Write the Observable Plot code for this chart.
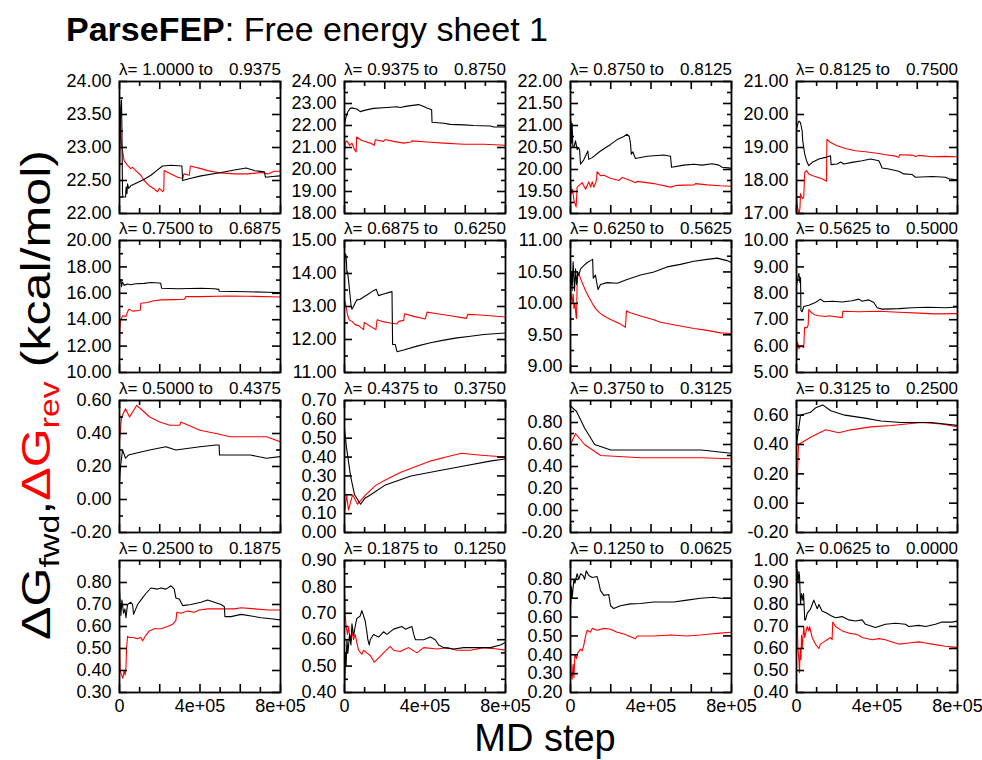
<!DOCTYPE html>
<html>
<head>
<meta charset="utf-8">
<script src="https://cdn.jsdelivr.net/npm/d3@7"></script>
<script src="https://cdn.jsdelivr.net/npm/@observablehq/plot@0.6"></script>
<style>
  html, body { margin: 0; padding: 0; background: #fff; }
  #chart { position: relative; width: 982px; height: 760px; overflow: hidden; background: #fff; font-family: "Liberation Sans", Arial, sans-serif; }
  #chart svg.panel { position: absolute; overflow: visible; }
  #overlay { position: absolute; left: 0; top: 0; }
</style>
</head>
<body>
<div id="chart"></div>
<script>
// ---------- data (x in units of 1e5 MD steps) ----------
const lambdaFrom = ["1.0000","0.9375","0.8750","0.8125","0.7500","0.6875","0.6250","0.5625",
                    "0.5000","0.4375","0.3750","0.3125","0.2500","0.1875","0.1250","0.0625"];
const lambdaTo   = ["0.9375","0.8750","0.8125","0.7500","0.6875","0.6250","0.5625","0.5000",
                    "0.4375","0.3750","0.3125","0.2500","0.1875","0.1250","0.0625","0.0000"];
const xTickValues = [0, 4, 8];
const xTickLabels = ["0", "4e+05", "8e+05"];

const yDomains = [[22,24],[18,24],[19,22],[17,21],[10,20],[11,15],[8.9,11],[5,10],
                  [-0.2,0.6],[0,0.7],[-0.2,1.0],[-0.2,0.7],[0.3,0.9],[0.4,0.9],[0.2,0.9],[0.4,1.0]];
const yLabels = [
  [22,22.5,23,23.5,24],[18,19,20,21,22,23,24],[19,19.5,20,20.5,21,21.5,22],[17,18,19,20,21],
  [10,12,14,16,18,20],[11,12,13,14,15],[9,9.5,10,10.5,11],[5,6,7,8,9,10],
  [-0.2,0,0.2,0.4,0.6],[0,0.1,0.2,0.3,0.4,0.5,0.6,0.7],[-0.2,0,0.2,0.4,0.6,0.8],[-0.2,0,0.2,0.4,0.6],
  [0.3,0.4,0.5,0.6,0.7,0.8],[0.4,0.5,0.6,0.7,0.8,0.9],[0.2,0.3,0.4,0.5,0.6,0.7,0.8],[0.4,0.5,0.6,0.7,0.8,0.9,1.0]
];
const yMinor = [
  [22.25,22.75,23.25,23.75],[18.5,19.5,20.5,21.5,22.5,23.5],[19.25,19.75,20.25,20.75,21.25,21.75],[17.5,18.5,19.5,20.5],
  [11,13,15,17,19],[11.5,12.5,13.5,14.5],[9.25,9.75,10.25,10.75],[5.5,6.5,7.5,8.5,9.5],
  [-0.1,0.1,0.3,0.5],[],[-0.1,0.1,0.3,0.5,0.7,0.9],[-0.1,0.1,0.3,0.5],
  [],[0.45,0.55,0.65,0.75,0.85],[],[]
];

const fwd1 = [[0,22.65],[0.03,23.2],[0.06,23.6],[0.1,23.72],[0.12,23.3],[0.15,22.3],[0.17,22.25],[0.3,22.25],[0.33,22.4],[0.37,22.3],[0.4,22.45],[0.45,22.38],[0.56,22.42],[0.9,22.47],[1.23,22.52],[1.56,22.58],[1.89,22.66],[2.14,22.72],[2.56,22.73],[3.1,22.72],[3.14,22.5],[3.5,22.53],[4.05,22.57],[5.05,22.62],[5.71,22.66],[6.29,22.69],[6.7,22.65],[7.2,22.63],[7.25,22.55],[7.6,22.56],[8,22.57]];
const rev1 = [[0,22.7],[0.03,23.4],[0.08,23.1],[0.15,22.95],[0.23,22.8],[0.4,22.73],[0.55,22.68],[0.65,22.7],[0.81,22.65],[1.06,22.58],[1.23,22.5],[1.48,22.42],[1.73,22.37],[1.89,22.33],[1.98,22.38],[2.14,22.33],[2.2,22.35],[2.22,22.65],[2.56,22.6],[2.89,22.55],[3.14,22.53],[3.2,22.6],[3.47,22.58],[3.52,22.72],[4.05,22.68],[4.38,22.65],[4.88,22.62],[5.71,22.6],[6.37,22.6],[7.04,22.62],[7.37,22.6],[7.7,22.64],[8,22.64]];

const fwd2 = [[0,22.0],[0.05,22.3],[0.15,22.6],[0.28,22.78],[0.37,22.8],[0.61,22.75],[0.78,22.63],[1.03,22.7],[1.44,22.78],[2.11,22.82],[2.6,22.85],[2.77,22.82],[3.1,22.88],[3.68,22.95],[3.85,22.9],[4.1,22.8],[4.33,22.72],[4.35,22.15],[4.93,22.1],[5.26,22.05],[5.93,22.03],[6.42,22.0],[7.25,21.98],[7.42,21.93],[8,21.93]];
const rev2 = [[0,20.8],[0.03,21.2],[0.12,21.3],[0.25,21.1],[0.37,21.2],[0.45,21.0],[0.53,20.85],[0.58,20.8],[0.6,21.48],[0.86,21.32],[1.28,21.2],[1.48,21.1],[1.53,21.35],[1.94,21.28],[2.02,21.36],[2.44,21.28],[2.94,21.2],[3.3,21.25],[3.35,21.3],[4.1,21.25],[4.93,21.2],[5.93,21.15],[6.92,21.15],[8,21.1]];

const fwd3 = [[0,20.5],[0.02,21.1],[0.05,20.6],[0.08,21.05],[0.12,20.5],[0.17,20.5],[0.25,20.65],[0.33,20.45],[0.4,20.5],[0.45,20.45],[0.5,20.12],[0.66,20.22],[0.86,20.42],[0.91,20.23],[1.08,20.27],[1.49,20.42],[1.99,20.57],[2.32,20.68],[2.65,20.75],[2.81,20.8],[2.92,20.75],[2.98,20.6],[3.02,20.35],[3.1,20.4],[3.18,20.3],[3.23,20.25],[3.81,20.3],[4.64,20.33],[4.97,20.3],[5.02,20.05],[5.63,20.1],[6.13,20.12],[6.54,20.1],[7.04,20.13],[7.37,20.1],[7.53,20.05],[8,20.03]];
const rev3 = [[0,19.75],[0.05,19.45],[0.1,19.55],[0.17,19.3],[0.28,19.15],[0.33,19.6],[0.58,19.7],[0.75,19.55],[0.91,19.72],[1.0,19.6],[1.08,19.72],[1.16,19.6],[1.24,19.68],[1.3,19.78],[1.32,19.95],[1.49,19.86],[1.66,19.87],[1.99,19.8],[2.4,19.75],[2.57,19.82],[2.98,19.75],[3.23,19.7],[3.31,19.73],[4.14,19.68],[4.97,19.6],[5.3,19.64],[6.13,19.65],[6.21,19.68],[6.79,19.65],[7.45,19.63],[8,19.62]];

const fwd4 = [[0,19.55],[0.05,19.7],[0.12,19.8],[0.2,19.75],[0.28,19.5],[0.31,19.2],[0.36,19.0],[0.41,18.8],[0.5,18.6],[0.53,18.55],[0.61,18.45],[0.78,18.55],[0.94,18.6],[1.11,18.65],[1.44,18.7],[1.69,18.75],[1.72,18.48],[2.02,18.5],[2.19,18.56],[2.35,18.5],[2.76,18.55],[3.26,18.6],[3.68,18.65],[4.09,18.6],[4.17,18.5],[4.25,18.38],[4.59,18.35],[5.08,18.28],[5.33,18.2],[5.75,18.18],[5.91,18.1],[6.74,18.12],[7.4,18.1],[7.57,18.05],[8,18.02]];
const rev4 = [[0,17.5],[0.05,17.2],[0.12,17.0],[0.17,17.15],[0.2,17.6],[0.25,17.5],[0.31,17.45],[0.36,17.5],[0.41,18.25],[0.5,18.3],[0.61,18.2],[0.78,18.15],[1.03,18.1],[1.27,18.05],[1.49,17.98],[1.51,19.25],[1.69,19.15],[2.02,19.05],[2.43,18.97],[2.93,18.9],[3.43,18.87],[4.09,18.82],[4.42,18.78],[4.92,18.74],[5.08,18.7],[5.12,18.78],[5.75,18.77],[5.91,18.73],[6.08,18.76],[6.74,18.72],[7.4,18.73],[8,18.72]];

const fwd5 = [[0,16.7],[0.04,17.0],[0.07,17.05],[0.1,16.5],[0.15,16.85],[0.23,16.6],[0.4,16.7],[0.56,16.65],[0.81,16.72],[1.23,16.75],[1.56,16.82],[1.98,16.78],[2.05,16.75],[2.09,16.38],[2.89,16.35],[4.05,16.38],[4.71,16.35],[4.93,16.3],[4.96,16.15],[6.37,16.12],[7.37,16.08],[8,16.05]];
const rev5 = [[0,12.0],[0.02,13.2],[0.05,14.0],[0.1,14.1],[0.15,14.3],[0.32,14.25],[0.4,14.6],[0.48,14.8],[0.65,14.65],[0.98,14.7],[1.03,14.72],[1.06,15.25],[1.39,15.3],[1.64,15.42],[2.06,15.5],[2.72,15.52],[3.22,15.55],[3.3,15.75],[4.05,15.75],[5.38,15.8],[6.37,15.78],[8,15.72]];

const fwd6 = [[0,14.3],[0.03,14.6],[0.08,14.55],[0.12,14.0],[0.15,14.05],[0.2,13.8],[0.25,13.5],[0.33,13.0],[0.37,12.92],[0.45,13.0],[0.52,13.1],[0.61,13.2],[0.78,13.22],[1.11,13.35],[1.44,13.48],[1.58,13.52],[1.69,13.33],[1.94,13.38],[2.36,13.45],[2.39,11.85],[2.52,11.85],[2.61,11.63],[2.94,11.68],[3.6,11.8],[4.27,11.9],[4.93,11.98],[5.59,12.05],[6.26,12.1],[6.92,12.15],[8,12.2]];
const rev6 = [[0,13.2],[0.08,13.0],[0.15,12.75],[0.23,12.6],[0.37,12.55],[0.53,12.45],[0.7,12.42],[0.95,12.3],[0.98,12.52],[1.28,12.4],[1.56,12.3],[1.62,12.6],[1.86,12.55],[2.27,12.5],[2.61,12.47],[2.69,12.55],[2.94,12.58],[2.99,12.78],[3.44,12.7],[4.01,12.62],[4.1,12.83],[4.6,12.78],[5.26,12.72],[6.06,12.64],[6.12,12.76],[6.59,12.75],[7.25,12.72],[8,12.68]];

const fwd7 = [[0,10.25],[0.05,10.5],[0.08,10.2],[0.13,10.66],[0.2,10.2],[0.25,10.55],[0.3,10.3],[0.36,10.5],[0.41,10.45],[0.5,10.55],[0.66,10.6],[0.83,10.65],[0.99,10.68],[1.1,10.7],[1.13,10.4],[1.24,10.45],[1.32,10.3],[1.37,10.22],[1.49,10.3],[1.82,10.33],[2.32,10.32],[2.81,10.38],[3.48,10.45],[4.14,10.5],[4.8,10.58],[5.46,10.62],[6.13,10.67],[6.79,10.7],[7.28,10.72],[7.78,10.68],[8,10.65]];
const rev7 = [[0,10.25],[0.08,10.0],[0.13,10.15],[0.17,9.92],[0.22,10.0],[0.28,9.78],[0.3,9.76],[0.33,10.3],[0.36,10.43],[0.41,10.47],[0.58,10.33],[0.75,10.2],[0.91,10.1],[1.08,10.0],[1.24,9.92],[1.41,9.86],[1.57,9.82],[1.82,9.77],[2.15,9.72],[2.48,9.67],[2.73,9.62],[2.78,9.88],[2.98,9.85],[3.48,9.8],[4.14,9.74],[4.47,9.7],[5.13,9.66],[6.13,9.6],[6.79,9.57],[7.45,9.53],[8,9.52]];

const fwd8 = [[0,8.3],[0.08,8.62],[0.12,8.75],[0.17,8.4],[0.2,8.6],[0.22,7.35],[0.28,7.3],[0.36,7.5],[0.61,7.55],[0.94,7.65],[1.19,7.78],[1.36,7.68],[1.77,7.7],[2.27,7.67],[2.76,7.72],[3.1,7.78],[3.26,7.7],[3.59,7.75],[3.84,7.65],[4.01,7.45],[4.25,7.4],[5.08,7.42],[5.75,7.45],[6.57,7.47],[7.4,7.45],[8,7.48]];
const rev8 = [[0,5.6],[0.05,6.15],[0.12,5.9],[0.2,6.0],[0.36,5.95],[0.4,6.7],[0.53,6.7],[0.58,6.8],[0.61,7.38],[0.7,7.3],[0.86,7.2],[1.11,7.15],[1.44,7.12],[1.61,7.15],[2.27,7.08],[2.3,7.32],[3.1,7.3],[4.09,7.32],[5.08,7.28],[6.08,7.25],[6.9,7.22],[8,7.23]];

const fwd9 = [[0,0.1],[0.05,0.2],[0.15,0.3],[0.3,0.25],[0.45,0.27],[0.8,0.28],[1.5,0.3],[2.3,0.32],[2.8,0.3],[4.0,0.32],[4.8,0.33],[4.95,0.33],[4.97,0.27],[6.5,0.27],[7.3,0.25],[8,0.26]];
const rev9 = [[0,0.35],[0.1,0.5],[0.3,0.55],[0.5,0.5],[0.85,0.57],[1.05,0.55],[1.5,0.5],[2.0,0.47],[2.5,0.45],[3.0,0.45],[3.05,0.47],[4.0,0.42],[4.8,0.4],[5.5,0.38],[7.3,0.38],[8,0.35]];

const fwd10 = [[0,0.55],[0.1,0.45],[0.3,0.3],[0.5,0.2],[0.8,0.15],[1.0,0.18],[1.3,0.2],[2.0,0.25],[3.3,0.3],[4.8,0.33],[5.8,0.35],[7.3,0.38],[8,0.39]];
const rev10 = [[0,0.1],[0.1,0.2],[0.2,0.12],[0.4,0.2],[0.65,0.15],[1.05,0.2],[1.55,0.25],[2.05,0.28],[2.8,0.32],[3.55,0.35],[4.3,0.38],[5.05,0.4],[5.8,0.42],[6.8,0.41],[8,0.4]];

const fwd11 = [[0,0.95],[0.3,0.9],[0.7,0.75],[1.2,0.6],[2.0,0.55],[4.0,0.55],[6.5,0.55],[8,0.52]];
const rev11 = [[0,0.6],[0.25,0.7],[0.7,0.6],[1.5,0.5],[3.5,0.48],[6.5,0.48],[8,0.47]];

const fwd12 = [[0,0.4],[0.2,0.6],[0.7,0.62],[0.95,0.65],[1.3,0.67],[1.7,0.63],[2.4,0.6],[3.4,0.58],[4.2,0.56],[5.2,0.55],[6.7,0.55],[8,0.53]];
const rev12 = [[0,0.0],[0.1,0.4],[0.7,0.45],[1.45,0.5],[2.1,0.48],[2.7,0.5],[3.7,0.52],[4.7,0.53],[6.2,0.55],[7.2,0.54],[8,0.52]];

const fwd13 = [[0,0.77],[0.07,0.65],[0.12,0.72],[0.2,0.66],[0.27,0.68],[0.32,0.64],[0.4,0.7],[0.56,0.71],[0.65,0.7],[0.7,0.655],[0.81,0.68],[0.9,0.7],[1.06,0.72],[1.31,0.75],[1.56,0.775],[1.89,0.77],[2.06,0.775],[2.31,0.77],[2.56,0.785],[2.72,0.77],[2.8,0.73],[2.97,0.725],[3.14,0.695],[3.55,0.7],[4.05,0.71],[4.38,0.72],[4.71,0.71],[5.05,0.7],[5.21,0.69],[5.24,0.645],[5.54,0.645],[6.04,0.655],[6.54,0.648],[7.04,0.64],[7.54,0.635],[8,0.63]];
const rev13 = [[0,0.56],[0.03,0.4],[0.1,0.38],[0.17,0.365],[0.23,0.4],[0.28,0.38],[0.32,0.41],[0.35,0.5],[0.4,0.555],[0.48,0.55],[0.65,0.55],[0.9,0.545],[1.06,0.55],[1.15,0.535],[1.31,0.56],[1.48,0.58],[1.73,0.59],[2.06,0.59],[2.39,0.6],[2.64,0.61],[2.8,0.627],[2.85,0.665],[3.05,0.66],[3.39,0.67],[3.72,0.665],[3.97,0.675],[4.38,0.68],[5.05,0.68],[5.71,0.68],[6.04,0.685],[6.71,0.68],[7.37,0.675],[8,0.675]];

const fwd14 = [[0,0.42],[0.03,0.48],[0.05,0.55],[0.08,0.5],[0.12,0.6],[0.17,0.55],[0.25,0.62],[0.32,0.58],[0.37,0.66],[0.45,0.615],[0.53,0.65],[0.61,0.68],[0.78,0.69],[0.86,0.71],[0.95,0.69],[1.03,0.67],[1.11,0.63],[1.16,0.6],[1.23,0.58],[1.28,0.6],[1.44,0.62],[1.69,0.61],[1.94,0.63],[2.11,0.62],[2.44,0.64],[2.85,0.65],[3.02,0.64],[3.35,0.65],[3.44,0.62],[3.52,0.6],[3.93,0.6],[4.27,0.61],[4.51,0.6],[4.68,0.58],[4.93,0.57],[5.43,0.565],[5.93,0.57],[6.76,0.57],[7.25,0.57],[7.75,0.58],[8,0.59]];
const rev14 = [[0,0.8],[0.03,0.7],[0.08,0.65],[0.15,0.62],[0.2,0.65],[0.28,0.6],[0.37,0.63],[0.45,0.6],[0.53,0.62],[0.61,0.59],[0.7,0.56],[0.86,0.545],[0.95,0.56],[1.11,0.55],[1.28,0.54],[1.48,0.515],[1.69,0.53],[1.94,0.55],[2.27,0.575],[2.44,0.56],[2.77,0.555],[3.19,0.57],[3.6,0.55],[3.93,0.57],[4.6,0.565],[5.1,0.57],[5.59,0.56],[6.26,0.56],[6.92,0.57],[7.59,0.565],[8,0.56]];

const fwd15 = [[0,0.65],[0.05,0.76],[0.08,0.7],[0.17,0.8],[0.22,0.78],[0.33,0.83],[0.41,0.8],[0.5,0.83],[0.63,0.82],[0.7,0.8],[0.78,0.845],[0.91,0.82],[1.08,0.81],[1.32,0.815],[1.41,0.78],[1.49,0.74],[1.66,0.715],[1.9,0.72],[1.99,0.66],[2.15,0.645],[2.48,0.66],[2.98,0.67],[3.48,0.672],[4.14,0.68],[5.13,0.68],[5.79,0.69],[6.46,0.7],[7.12,0.705],[7.45,0.7],[8,0.7]];
const rev15 = [[0,0.4],[0.03,0.31],[0.08,0.27],[0.13,0.35],[0.17,0.28],[0.22,0.4],[0.3,0.38],[0.36,0.41],[0.5,0.43],[0.58,0.42],[0.66,0.45],[0.75,0.5],[0.83,0.53],[0.99,0.52],[1.08,0.54],[1.32,0.53],[1.66,0.54],[1.99,0.535],[2.32,0.52],[2.65,0.51],[2.9,0.5],[3.23,0.485],[3.31,0.5],[4.14,0.5],[4.97,0.505],[5.79,0.5],[6.46,0.505],[6.95,0.51],[7.45,0.515],[8,0.52]];

const fwd16 = [[0,0.9],[0.03,0.96],[0.08,0.9],[0.12,0.95],[0.15,0.93],[0.2,0.8],[0.25,0.85],[0.31,0.82],[0.35,0.85],[0.41,0.73],[0.45,0.73],[0.53,0.76],[0.7,0.78],[0.78,0.8],[0.86,0.82],[1.03,0.78],[1.11,0.8],[1.27,0.77],[1.52,0.76],[1.69,0.75],[1.94,0.74],[2.27,0.745],[2.6,0.73],[2.93,0.725],[3.26,0.73],[3.43,0.71],[3.92,0.695],[4.42,0.71],[4.92,0.715],[5.41,0.71],[5.58,0.7],[6.08,0.705],[6.41,0.7],[6.9,0.71],[7.24,0.72],[7.73,0.72],[8,0.725]];
const rev16 = [[0,0.93],[0.03,0.75],[0.07,0.6],[0.12,0.55],[0.15,0.49],[0.18,0.6],[0.22,0.55],[0.25,0.66],[0.28,0.6],[0.36,0.7],[0.41,0.65],[0.53,0.7],[0.61,0.68],[0.65,0.7],[0.78,0.65],[0.94,0.62],[1.11,0.6],[1.19,0.62],[1.36,0.63],[1.52,0.64],[1.69,0.65],[1.77,0.64],[1.8,0.72],[1.94,0.7],[2.27,0.68],[2.6,0.67],[2.93,0.665],[3.1,0.66],[3.26,0.65],[3.76,0.64],[4.09,0.645],[4.42,0.64],[4.75,0.63],[5.08,0.62],[5.58,0.625],[6.08,0.63],[6.41,0.625],[6.74,0.62],[7.4,0.61],[8,0.605]];

const fwdSeries = [fwd1,fwd2,fwd3,fwd4,fwd5,fwd6,fwd7,fwd8,fwd9,fwd10,fwd11,fwd12,fwd13,fwd14,fwd15,fwd16];
const revSeries = [rev1,rev2,rev3,rev4,rev5,rev6,rev7,rev8,rev9,rev10,rev11,rev12,rev13,rev14,rev15,rev16];

// ---------- layout ----------
const FONT = '"Liberation Sans", Arial, Helvetica, sans-serif';
const boxLeft = [119, 344, 570, 796];
const boxTop = [81, 240, 400, 560];
const BW = 161, BH = 132;
const ML = 66, MR = 36, MT = 22, MB = 32;

const chart = document.getElementById("chart");

for (let i = 0; i < 16; i++) {
  const r = Math.floor(i / 4), c = i % 4;
  const bottom = r === 3;
  const marks = [
    Plot.line(revSeries[i], {x: d => d[0], y: d => d[1], stroke: "#ff0000", strokeWidth: 1.1, clip: true}),
    Plot.line(fwdSeries[i], {x: d => d[0], y: d => d[1], stroke: "#000", strokeWidth: 1.1, clip: true}),
    // inward tick marks on all four sides
    Plot.tickY(yLabels[i], {y: d => d, insetRight: BW - 8, stroke: "#000", strokeWidth: 1.6}),
    Plot.tickY(yLabels[i], {y: d => d, insetLeft: BW - 8, stroke: "#000", strokeWidth: 1.6}),
    Plot.tickY(yMinor[i], {y: d => d, insetRight: BW - 4, stroke: "#000", strokeWidth: 1.6}),
    Plot.tickY(yMinor[i], {y: d => d, insetLeft: BW - 4, stroke: "#000", strokeWidth: 1.6}),
    Plot.tickX([0,2,4,6,8], {x: d => d, insetTop: BH - 8, stroke: "#000", strokeWidth: 1.6}),
    Plot.tickX([0,2,4,6,8], {x: d => d, insetBottom: BH - 8, stroke: "#000", strokeWidth: 1.6}),
    Plot.tickX([1,3,5,7], {x: d => d, insetTop: BH - 5, stroke: "#000", strokeWidth: 1.6}),
    Plot.tickX([1,3,5,7], {x: d => d, insetBottom: BH - 5, stroke: "#000", strokeWidth: 1.6}),
    Plot.frame({stroke: "#000", strokeWidth: 1.8}),
    Plot.axisY({ticks: yLabels[i], tickSize: 0, tickPadding: 8, tickFormat: d => d.toFixed(2),
                label: null, fontSize: 18, fill: "#000"})
  ];
  if (bottom) {
    marks.push(Plot.axisX({ticks: xTickValues, tickSize: 0, tickPadding: 7,
      tickFormat: d => xTickLabels[xTickValues.indexOf(d)], label: null, fontSize: 18, fill: "#000"}));
  }
  const svg = Plot.plot({
    width: BW + ML + MR, height: BH + MT + MB,
    marginLeft: ML, marginRight: MR, marginTop: MT, marginBottom: MB,
    x: {domain: [0, 8], axis: bottom ? undefined : null},
    y: {domain: yDomains[i]},
    style: {fontFamily: FONT, fontSize: "18px", background: "transparent", color: "#000"},
    marks
  });
  svg.classList.add("panel");
  svg.style.left = (boxLeft[c] - ML) + "px";
  svg.style.top = (boxTop[r] - MT) + "px";
  chart.appendChild(svg);
}

// ---------- overlay text: titles and axis labels ----------
const NS = "http://www.w3.org/2000/svg";
const ov = document.createElementNS(NS, "svg");
ov.setAttribute("id", "overlay");
ov.setAttribute("width", 982); ov.setAttribute("height", 760);
ov.style.fontFamily = FONT;
chart.appendChild(ov);

function addText(x, y, str, attrs = {}) {
  const t = document.createElementNS(NS, "text");
  t.setAttribute("x", x); t.setAttribute("y", y);
  for (const k in attrs) t.setAttribute(k, attrs[k]);
  t.style.fontFamily = FONT;
  t.textContent = str;
  ov.appendChild(t);
  return t;
}

for (let i = 0; i < 16; i++) {
  const r = Math.floor(i / 4), c = i % 4;
  const y = boxTop[r] - 6;
  addText(boxLeft[c], y, "\u03bb= " + lambdaFrom[i] + " to", {"font-size": "17px", fill: "#000"});
  addText(boxLeft[c] + BW + 1, y, lambdaTo[i], {"font-size": "17px", fill: "#000", "text-anchor": "end"});
}

// main title
const title = addText(66, 41, "", {"font-size": "34px", fill: "#000"});
const tb = document.createElementNS(NS, "tspan"); tb.setAttribute("font-weight", "bold"); tb.textContent = "ParseFEP";
const tr = document.createElementNS(NS, "tspan"); tr.textContent = ": Free energy sheet 1";
title.appendChild(tb); title.appendChild(tr);

// x label
addText(545, 751, "MD step", {"font-size": "38px", fill: "#000", "text-anchor": "middle"});

// y label (rotated)
const yl = document.createElementNS(NS, "text");
yl.setAttribute("transform", "translate(50,395) rotate(-90)");
yl.setAttribute("text-anchor", "middle");
yl.setAttribute("font-size", "40px");
yl.setAttribute("textLength", 490);
yl.setAttribute("lengthAdjust", "spacingAndGlyphs");
yl.style.fontFamily = FONT;
const parts = [
  ["\u0394G", "#000", 0], ["fwd", "#000", 1], [",", "#000", -1],
  ["\u0394G", "#ff0000", 0], ["rev", "#ff0000", 1], [" (kcal/mol)", "#000", -1]
];
for (const [s, col, sub] of parts) {
  const ts = document.createElementNS(NS, "tspan");
  ts.setAttribute("fill", col);
  if (sub === 1) { ts.setAttribute("font-size", "27px"); ts.setAttribute("dy", 9); }
  if (sub === -1) { ts.setAttribute("dy", -9); }
  ts.textContent = s;
  yl.appendChild(ts);
}
ov.appendChild(yl);
</script>
</body>
</html>
